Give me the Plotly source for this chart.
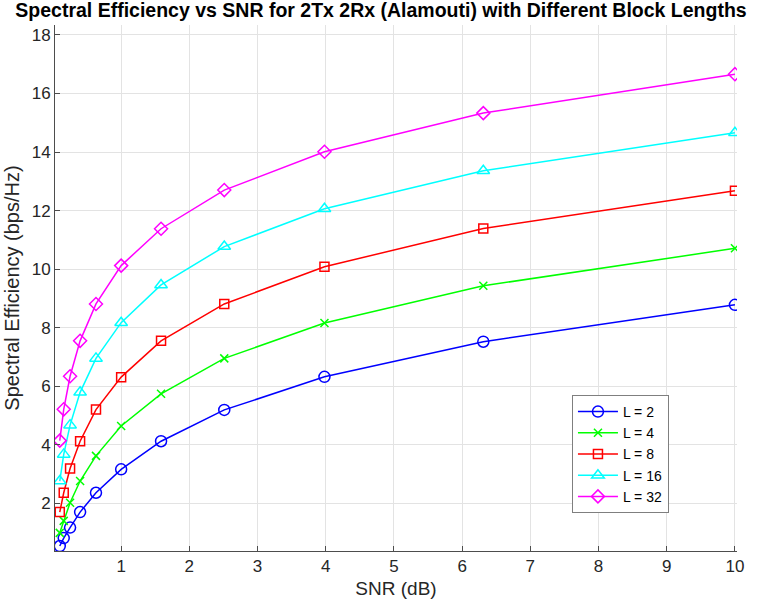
import plotly.graph_objects as go

snr = [0.1, 0.158, 0.251, 0.398, 0.631, 1.0, 1.585, 2.512, 3.981, 6.310, 10.0]

se_L2 = [0.54, 0.81, 1.17, 1.70, 2.36, 3.16, 4.12, 5.19, 6.32, 7.52, 8.78]
se_L4 = [0.99, 1.40, 2.02, 2.76, 3.62, 4.64, 5.74, 6.95, 8.16, 9.43, 10.71]
se_L8 = [1.70, 2.36, 3.19, 4.12, 5.20, 6.31, 7.55, 8.81, 10.08, 11.39, 12.68]
se_L16 = [2.76, 3.67, 4.67, 5.79, 6.95, 8.17, 9.46, 10.77, 12.06, 13.36, 14.66]
se_L32 = [4.14, 5.21, 6.34, 7.55, 8.81, 10.12, 11.38, 12.70, 14.01, 15.33, 16.66]

series_names = ["L = 2", "L = 4", "L = 8", "L = 16", "L = 32"]
series_vals = [se_L2, se_L4, se_L8, se_L16, se_L32]
colors = ["#0000FF", "#00FF00", "#FF0000", "#00FFFF", "#FF00FF"]
symbols = ["circle-open", "x-thin-open", "square-open", "triangle-up-open", "diamond-open"]
sizes = [11, 8, 9, 11, 10]

fig = go.Figure()
for name, vals, c, s, sz in zip(series_names, series_vals, colors, symbols, sizes):
    fig.add_trace(go.Scatter(
        x=snr, y=vals, mode="lines+markers", name=name,
        line=dict(color=c, width=1.5),
        marker=dict(symbol=s, size=sz, color=c, line=dict(color=c, width=1.5)),
    ))

axis_common = dict(
    showgrid=True, gridcolor="#E3E3E3", gridwidth=1,
    zeroline=False, showline=True, linecolor="#4D4D4D", linewidth=1,
    ticks="inside", ticklen=5, tickcolor="#4D4D4D",
    tickfont=dict(family="Liberation Sans, Arial", size=17, color="#262626"),
    mirror=False,
)

fig.update_layout(
    width=762, height=609,
    paper_bgcolor="white", plot_bgcolor="white",
    margin=dict(l=55, r=25, t=25, b=58),
    title=dict(
        text="<b>Spectral Efficiency vs SNR for 2Tx 2Rx (Alamouti) with Different Block Lengths</b>",
        x=0.5, xref="container", xanchor="center", y=0.995, yref="container", yanchor="top",
        font=dict(family="Liberation Sans, Arial", size=19.5, color="#000000"),
    ),
    xaxis=dict(
        range=[0.03, 10.03], tick0=0, dtick=1,
        title=dict(text="SNR (dB)", standoff=6,
                   font=dict(family="Liberation Sans, Arial", size=19, color="#262626")),
        **axis_common,
    ),
    yaxis=dict(
        range=[0.37, 18.34], tick0=0, dtick=2,
        title=dict(text="Spectral Efficiency (bps/Hz)", standoff=6,
                   font=dict(family="Liberation Sans, Arial", size=20, color="#262626")),
        **axis_common,
    ),
    legend=dict(
        x=0.758, y=0.2966, xanchor="left", yanchor="top",
        bgcolor="white", bordercolor="#7F7F7F", borderwidth=1,
        font=dict(family="Liberation Sans, Arial", size=14, color="#000000"),
        tracegroupgap=0, itemwidth=40,
    ),
    showlegend=True,
)

fig.write_html("out.html", config={"displayModeBar": False},
               post_script="document.body.style.margin='0';document.body.style.padding='0';")
